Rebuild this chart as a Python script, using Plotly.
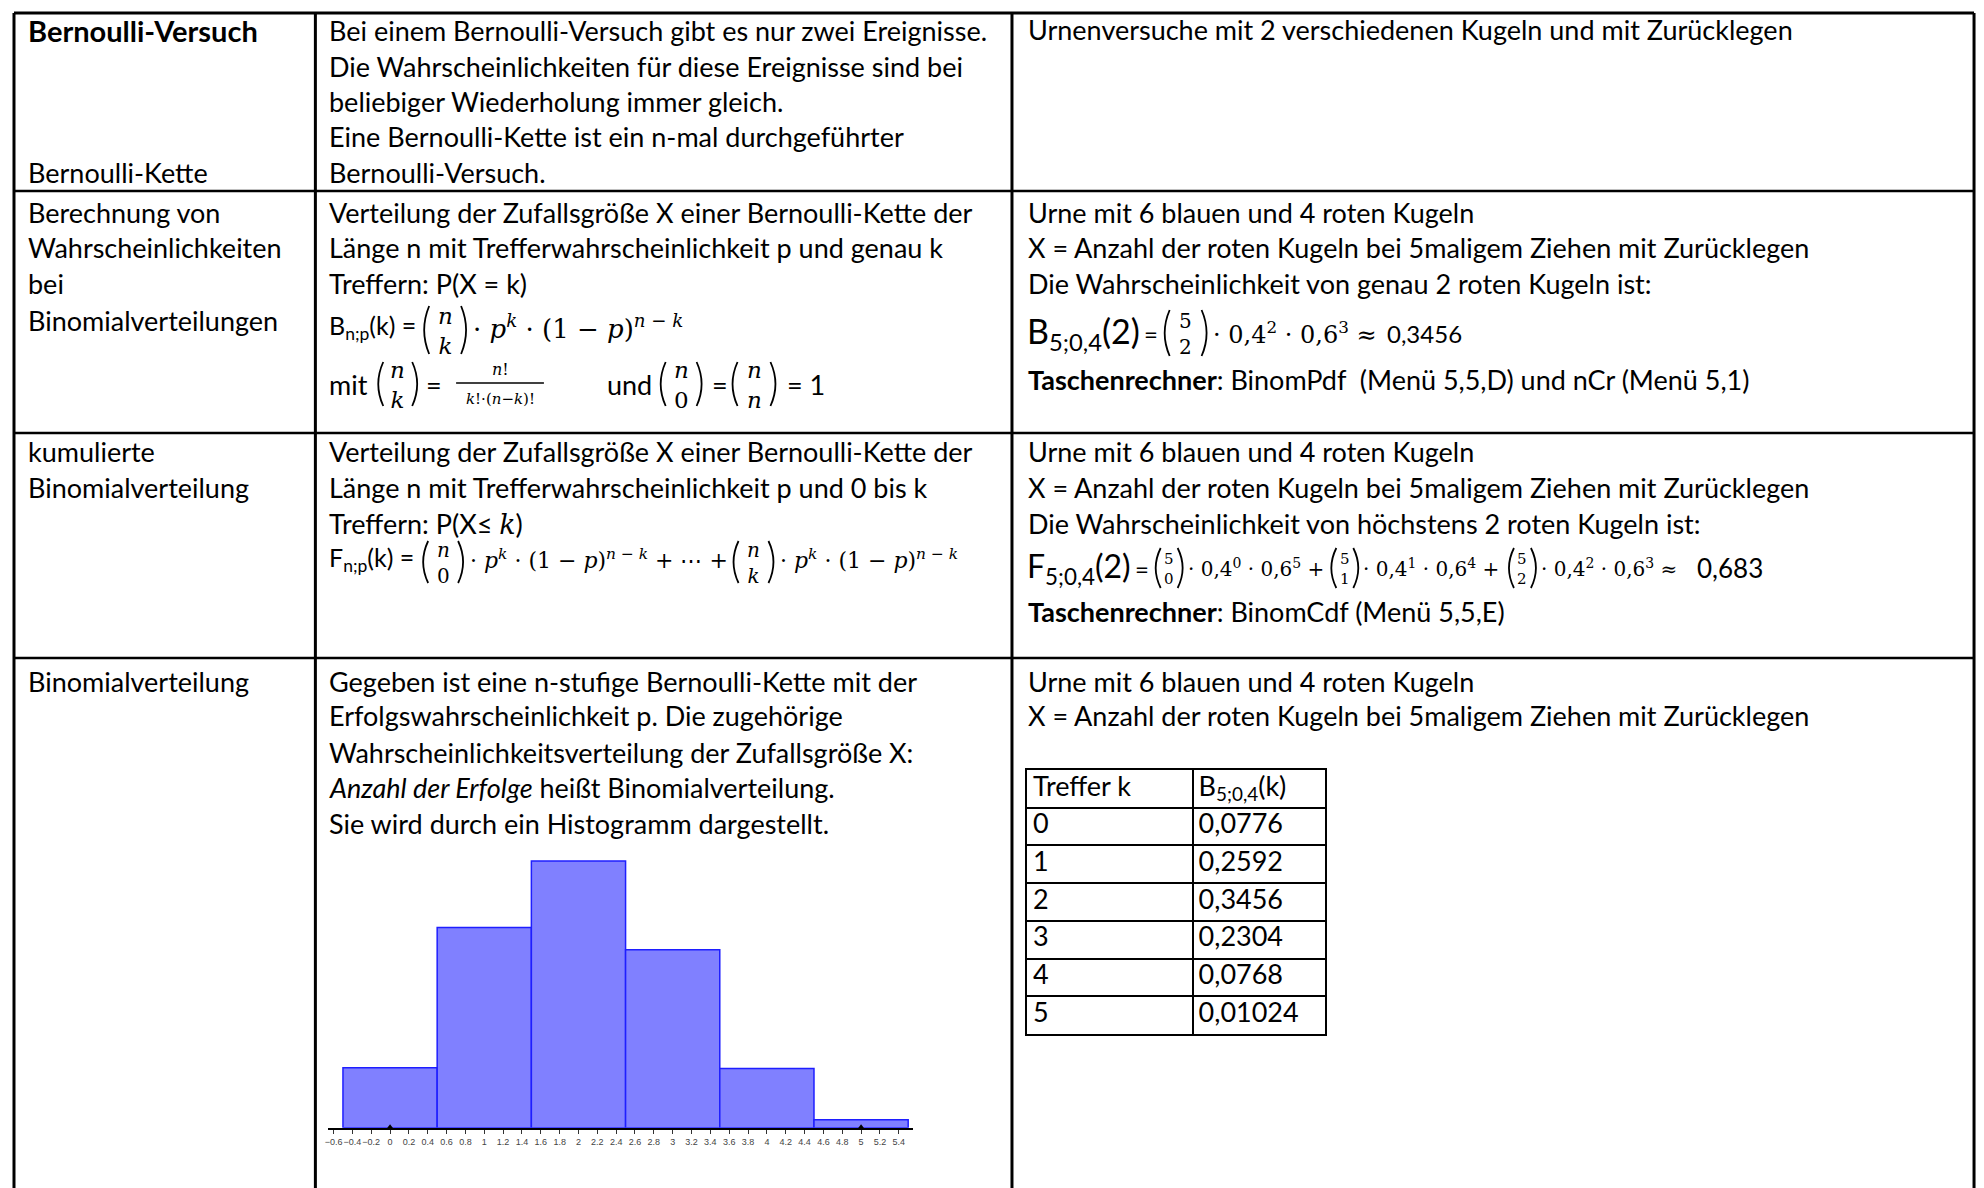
"""Merkblatt Bernoulli-Kette / Binomialverteilung als Plotly-Seite."""

import plotly.graph_objects as go

W, H = 1984, 1188
OFF_X, OFF_Y = 10, 8  # Seitenrand des Browsers, um den die Grafik verschoben erscheint
SANS = "Lato"
MATH = "DejaVu Serif"
FS = 27

# Histogramm-Daten: Trefferzahl k und B(5;0,4)(k)
K_VALUES = [0, 1, 2, 3, 4, 5]
PROBS = [0.0776, 0.2592, 0.3456, 0.2304, 0.0768, 0.01024]
TABLE_HEADER = ["Treffer k", "B<sub>5;0,4</sub>(k)"]
SLIDER_POINTS = [0, 5]

# Textzeilen der drei Spalten: (Text, y-Mitte in px)
COL1_LINES = [
    ("Bernoulli-Kette", 173),
    ("Berechnung von", 212),
    ("Wahrscheinlichkeiten", 248),
    ("bei", 284),
    ("Binomialverteilungen", 320),
    ("kumulierte", 452),
    ("Binomialverteilung", 487),
    ("Binomialverteilung", 681),
]
COL2_LINES = [
    ("Bei einem Bernoulli-Versuch gibt es nur zwei Ereignisse.", 31),
    ("Die Wahrscheinlichkeiten für diese Ereignisse sind bei", 66),
    ("beliebiger Wiederholung immer gleich.", 101),
    ("Eine Bernoulli-Kette ist ein n-mal durchgeführter", 137),
    ("Bernoulli-Versuch.", 173),
    ("Verteilung der Zufallsgröße X einer Bernoulli-Kette der", 212),
    ("Länge n mit Trefferwahrscheinlichkeit p und genau k", 248),
    ("Treffern: P(X = k)", 284),
    ("Verteilung der Zufallsgröße X einer Bernoulli-Kette der", 452),
    ("Länge n mit Trefferwahrscheinlichkeit p und 0 bis k", 487),
    ("Treffern: P(X≤ <span style='font-family:DejaVu Serif'><i>k</i></span>)", 523),
    ("Gegeben ist eine n-stufige Bernoulli-Kette mit der", 681),
    ("Erfolgswahrscheinlichkeit p. Die zugehörige", 716),
    ("Wahrscheinlichkeitsverteilung der Zufallsgröße X:", 752),
    ("<i>Anzahl der Erfolge</i> heißt Binomialverteilung.", 787),
    ("Sie wird durch ein Histogramm dargestellt.", 823),
]
COL3_LINES = [
    ("Urnenversuche mit 2 verschiedenen Kugeln und mit Zurücklegen", 30),
    ("Urne mit 6 blauen und 4 roten Kugeln", 212),
    ("X = Anzahl der roten Kugeln bei 5maligem Ziehen mit Zurücklegen", 248),
    ("Die Wahrscheinlichkeit von genau 2 roten Kugeln ist:", 284),
    ("<b>Taschenrechner</b>: BinomPdf\u00a0 (Menü 5,5,D) und nCr (Menü 5,1)", 379),
    ("Urne mit 6 blauen und 4 roten Kugeln", 452),
    ("X = Anzahl der roten Kugeln bei 5maligem Ziehen mit Zurücklegen", 488),
    ("Die Wahrscheinlichkeit von höchstens 2 roten Kugeln ist:", 523),
    ("<b>Taschenrechner</b>: BinomCdf (Menü 5,5,E)", 611),
    ("Urne mit 6 blauen und 4 roten Kugeln", 681),
    ("X = Anzahl der roten Kugeln bei 5maligem Ziehen mit Zurücklegen", 716),
]

annotations = []
shapes = []


def X(x):
    return (x - OFF_X) / W


def Y(y):
    return 1 - (y - OFF_Y) / H


def txt(x, y, s, size=FS, family=SANS, xanchor="left"):
    annotations.append(dict(
        x=X(x), y=Y(y), xref="paper", yref="paper", text=s, showarrow=False,
        xanchor=xanchor, yanchor="middle", align="center", borderpad=0,
        font=dict(family=family, size=size, color="black"),
    ))


def line(x0, y0, x1, y1, width=2):
    shapes.append(dict(type="line", xref="paper", yref="paper",
                       x0=X(x0), y0=Y(y0), x1=X(x1), y1=Y(y1),
                       line=dict(color="black", width=width)))


def paren(x_outer, y0, y1, left=True, bow=5):
    ym = (y0 + y1) / 2
    if left:
        xe, xc = x_outer + bow, x_outer - bow
    else:
        xe, xc = x_outer - bow, x_outer + bow
    path = f"M {X(xe)},{Y(y0)} Q {X(xc)},{Y(ym)} {X(xe)},{Y(y1)}"
    shapes.append(dict(type="path", xref="paper", yref="paper", path=path,
                       line=dict(color="black", width=1.8)))


def binom(x0, x1, yc, h, top, bot, size=24):
    paren(x0, yc - h / 2, yc + h / 2, left=True)
    paren(x1, yc - h / 2, yc + h / 2, left=False)
    txt((x0 + x1) / 2, yc + 1, f"{top}<br>{bot}", size, MATH, "center")


# --- Tabellengitter ---
LEFT, C1, C2, RIGHT, TOP = 12, 314, 1012, 1976, 13
line(LEFT, TOP, RIGHT, TOP, 3)
for xv in (LEFT, C1, C2, RIGHT):
    line(xv, TOP, xv, H + OFF_Y, 3)
for yv in (191, 433, 658):
    line(LEFT, yv, RIGHT, yv, 2.5)

txt(25, 31, "<b>Bernoulli-Versuch</b>", 29)
for s, y in COL1_LINES:
    txt(25, y, s)
for s, y in COL2_LINES:
    txt(327, y, s)
for s, y in COL3_LINES:
    txt(1027, y, s)

PK = "<i>p</i><sup><i>k</i></sup>"
ONE_MINUS = "(1 − <i>p</i>)<sup><i>n</i> − <i>k</i></sup>"

# B_n;p(k)
yc = 327
txt(327, yc, "B<sub>n;p</sub>(k) =", 25)
binom(423, 465, yc + 3, 48, "<i>n</i>", "<i>k</i>", 23)
txt(471, yc, f"· {PK} · {ONE_MINUS}", 26, MATH)

# mit ... und ...
yc = 384
txt(327, yc, "mit")
binom(377, 416, yc, 44, "<i>n</i>", "<i>k</i>", 23)
txt(424, yc, "=")
txt(499, yc - 15, "<i>n</i>!", 16, MATH, "center")
line(455, yc - 1, 543, yc - 1, 1.3)
txt(499, yc + 15, "<i>k</i>!·(<i>n</i>−<i>k</i>)!", 15, MATH, "center")
txt(605, yc, "und")
binom(660, 701, yc, 44, "<i>n</i>", "0", 23)
txt(710, yc, "=")
binom(732, 775, yc, 44, "<i>n</i>", "<i>n</i>", 23)
txt(786, yc, "= 1")

# F_n;p(k)
yc = 559
txt(327, yc, "F<sub>n;p</sub>(k) =", 25)
binom(422, 462, yc + 3, 42, "<i>n</i>", "0", 20)
txt(468, yc, f"· {PK} · {ONE_MINUS} + ⋯ +", 22, MATH)
binom(733, 773, yc + 3, 42, "<i>n</i>", "<i>k</i>", 20)
txt(779, yc, f"· {PK} · {ONE_MINUS}", 22, MATH)

# B_5;0,4(2)
yc = 333
txt(1026, yc, "B<sub>5;0,4</sub>(2)", 34)
txt(1143, yc, "=", 24)
binom(1165, 1207, yc, 46, "5", "2", 20)
txt(1212, yc, "· 0,4<sup>2</sup> · 0,6<sup>3</sup> ≈", 24, MATH)
txt(1387, yc, "0,3456", 24)

# F_5;0,4(2)
yc = 568
txt(1026, yc, "F<sub>5;0,4</sub>(2)", 32)
txt(1134, yc, "=", 24)
binom(1156, 1183, yc, 40, "5", "0", 15)
txt(1187, yc, "· 0,4<sup>0</sup> · 0,6<sup>5</sup> +", 20, MATH)
binom(1332, 1359, yc, 40, "5", "1", 15)
txt(1363, yc, "· 0,4<sup>1</sup> · 0,6<sup>4</sup> +", 20, MATH)
binom(1510, 1537, yc, 40, "5", "2", 15)
txt(1541, yc, "· 0,4<sup>2</sup> · 0,6<sup>3</sup> ≈", 20, MATH)
txt(1697, yc, "0,683", 26)

fig = go.Figure()

# Histogramm
fig.add_trace(go.Bar(
    x=K_VALUES, y=PROBS, width=1,
    marker=dict(color="rgb(128,128,255)", line=dict(color="rgb(30,30,255)", width=1.5)),
    xaxis="x", yaxis="y", hoverinfo="skip",
))
fig.add_trace(go.Scatter(
    x=SLIDER_POINTS, y=[0] * len(SLIDER_POINTS), mode="markers",
    marker=dict(symbol="triangle-up", size=7, color="black"),
    xaxis="x", yaxis="y", cliponaxis=False, hoverinfo="skip",
))

# kleine Wertetabelle
prob_labels = [str(p).replace(".", ",") for p in PROBS]
rows = list(range(len(K_VALUES) + 1))
fig.add_trace(go.Scatter(
    x=[6] * len(rows), y=rows, mode="text", textposition="middle right",
    text=[TABLE_HEADER[0]] + [str(k) for k in K_VALUES],
    textfont=dict(family=SANS, size=FS, color="black"),
    xaxis="x2", yaxis="y2", hoverinfo="skip",
))
fig.add_trace(go.Scatter(
    x=[172] * len(rows), y=rows, mode="text", textposition="middle right",
    text=[TABLE_HEADER[1]] + prob_labels,
    textfont=dict(family=SANS, size=FS, color="black"),
    xaxis="x2", yaxis="y2", hoverinfo="skip",
))

fig.update_layout(
    width=W, height=H,
    margin=dict(l=0, r=0, t=0, b=0),
    paper_bgcolor="white", plot_bgcolor="white",
    showlegend=False,
    shapes=shapes, annotations=annotations,
    xaxis=dict(
        domain=[X(327), X(913)], range=[-0.655, 5.553], anchor="y",
        tickmode="linear", tick0=0, dtick=0.2, ticks="outside", ticklen=4,
        tickcolor="#333", tickangle=0, showgrid=False, zeroline=False,
        showline=True, linecolor="black", linewidth=2,
        tickfont=dict(family="Liberation Sans Narrow, Liberation Sans", size=9, color="#444"),
    ),
    yaxis=dict(
        domain=[Y(1127.7), Y(849.8)], range=[0, 0.36], anchor="x",
        visible=False,
    ),
    xaxis2=dict(
        domain=[X(1027), X(1326)], range=[0, 299], anchor="y2",
        tickvals=[166], showticklabels=False, ticks="", showgrid=True,
        gridcolor="black", gridwidth=2, zeroline=False,
        showline=True, mirror=True, linecolor="black", linewidth=2,
    ),
    yaxis2=dict(
        domain=[Y(1034), Y(770)], range=[6.5, -0.5], anchor="x2",
        tickvals=[r + 0.5 for r in rows[:-1]], showticklabels=False, ticks="",
        showgrid=True, gridcolor="black", gridwidth=2, zeroline=False,
        showline=True, mirror=True, linecolor="black", linewidth=2,
    ),
)

fig.write_html("out.html")
